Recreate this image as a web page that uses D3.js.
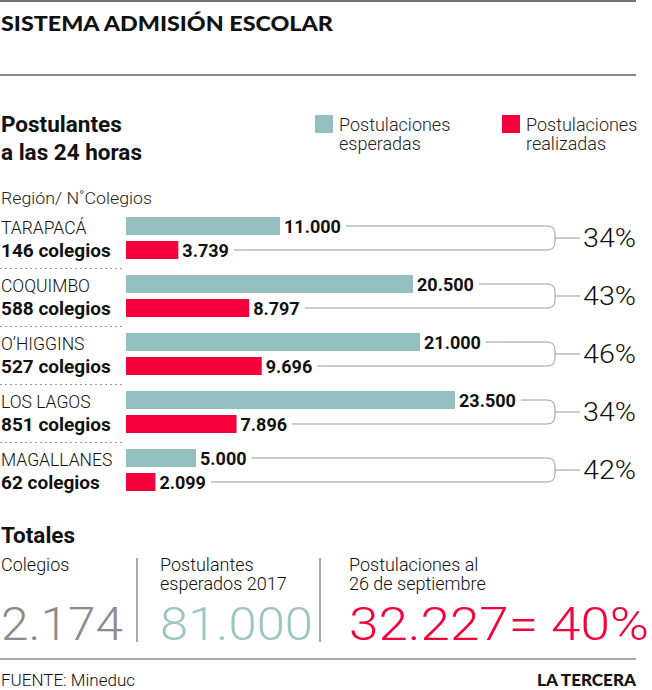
<!DOCTYPE html>
<html><head><meta charset="utf-8">
<script src="https://cdn.jsdelivr.net/npm/d3@7"></script>
<style>
body{margin:0;background:#fff;}
text{font-family:Roboto,"Noto Sans",sans-serif;}
.heavy{font-family:Lato,Roboto,sans-serif;font-weight:900;}
</style></head>
<body><svg id="c" width="652" height="690"></svg>
<script>
const regions = ["TARAPACÁ","COQUIMBO","O’HIGGINS","LOS LAGOS","MAGALLANES"];
const colegios = [146,588,527,851,62];
const esperadas = [11000,20500,21000,23500,5000];
const realizadas = [3739,8797,9696,7896,2099];
const porcentajes = [34,43,46,34,42];
const totalColegios = 2174, totalEsperados = 81000, totalRealizadas = 32227, totalPct = 40;

const TEAL = "#93bfbf", RED = "#f5003a", GRAY="#8c8c8c";
const loc = d3.formatLocale({decimal:",",thousands:".",grouping:[3],currency:["$",""]});
const fmt = loc.format(",d");

const svg = d3.select("#c");
function fit(sel, w){ sel.attr("textLength",w).attr("lengthAdjust","spacingAndGlyphs"); return sel;}

// rules
svg.append("line").attr("x1",0).attr("x2",636).attr("y1",1).attr("y2",1).attr("stroke","#444").attr("stroke-width",1.5);
svg.append("line").attr("x1",0).attr("x2",636).attr("y1",75).attr("y2",75).attr("stroke","#888").attr("stroke-width",2);
svg.append("line").attr("x1",0).attr("x2",636).attr("y1",659).attr("y2",659).attr("stroke","#555").attr("stroke-width",1);

fit(svg.append("text").attr("class","heavy").attr("x",1).attr("y",31).attr("font-size",21).attr("fill","#111").text("SISTEMA ADMISIÓN ESCOLAR"),332);

svg.append("text").attr("x",1).attr("y",132).attr("font-size",22.5).attr("font-weight",700).attr("fill","#111").text("Postulantes");
svg.append("text").attr("x",1).attr("y",160).attr("font-size",22.5).attr("font-weight",700).attr("fill","#111").text("a las 24 horas");

// legend
const leg = [{c:TEAL,x:315,l:["Postulaciones","esperadas"]},{c:RED,x:502,l:["Postulaciones","realizadas"]}];
leg.forEach(d=>{
  svg.append("rect").attr("x",d.x).attr("y",115).attr("width",18).attr("height",18).attr("fill",d.c);
  d.l.forEach((t,i)=>svg.append("text").attr("x",d.x+24).attr("y",131+i*19).attr("font-size",18).attr("font-weight",300).attr("fill","#222").text(t));
});

fit(svg.append("text").attr("x",1).attr("y",204).attr("font-size",17).attr("font-weight",300).attr("fill","#222").text("Región/ N˚Colegios"),151);

const x = d3.scaleLinear().domain([0,23500]).range([126,455]);
const y = d3.scaleBand().domain(regions).range([211,501]);
const BR = 555;

regions.forEach((r,i)=>{
  const t = y(r);
  svg.append("text").attr("x",1).attr("y",t+23).attr("font-size",17.5).attr("font-weight",300).attr("fill","#111").text(r);
  svg.append("text").attr("x",1).attr("y",t+46).attr("font-size",19).attr("font-weight",700).attr("fill","#111").text(colegios[i]+" colegios");
  if(i<regions.length-1) svg.append("line").attr("x1",0).attr("x2",125).attr("y1",t+57.5).attr("y2",t+57.5).attr("stroke","#999").attr("stroke-dasharray","2,3");
  svg.append("rect").attr("x",x(0)).attr("y",t+6).attr("width",x(esperadas[i])-x(0)).attr("height",18).attr("fill",TEAL);
  svg.append("rect").attr("x",x(0)).attr("y",t+30).attr("width",x(realizadas[i])-x(0)).attr("height",18).attr("fill",RED);
  const l1 = svg.append("text").attr("x",x(esperadas[i])+4).attr("y",t+22).attr("font-size",18).attr("font-weight",700).attr("fill","#111").text(fmt(esperadas[i]));
  const l2 = svg.append("text").attr("x",x(realizadas[i])+4).attr("y",t+46).attr("font-size",18).attr("font-weight",700).attr("fill","#111").text(fmt(realizadas[i]));
  const e1 = x(esperadas[i])+4+l1.node().getComputedTextLength()+5;
  const e2 = x(realizadas[i])+4+l2.node().getComputedTextLength()+5;
  const yt=t+15, yb=t+39, rr=8;
  svg.append("path").attr("fill","none").attr("stroke","#999").attr("stroke-width",1)
    .attr("d",`M${e1},${yt}H${BR-rr}Q${BR},${yt} ${BR},${yt+rr}V${yb-rr}Q${BR},${yb} ${BR-rr},${yb}H${e2}`);
  svg.append("line").attr("x1",BR).attr("x2",580).attr("y1",(yt+yb)/2).attr("y2",(yt+yb)/2).attr("stroke","#999");
  fit(svg.append("text").attr("x",583).attr("y",(yt+yb)/2+9).attr("font-size",26).attr("font-weight",300).attr("fill","#111").text(porcentajes[i]+"%"),53);
});

// Totales
svg.append("text").attr("x",1).attr("y",543).attr("font-size",22.5).attr("font-weight",700).attr("fill","#111").text("Totales");
[137,320].forEach(xx=>svg.append("line").attr("x1",xx).attr("x2",xx).attr("y1",558).attr("y2",642).attr("stroke","#555"));
const sub = [{x:1,l:["Colegios"]},{x:160,l:["Postulantes","esperados 2017"]},{x:349,l:["Postulaciones al","26 de septiembre"]}];
sub.forEach(d=>d.l.forEach((t,i)=>svg.append("text").attr("x",d.x).attr("y",571+i*19).attr("font-size",18).attr("font-weight",300).attr("fill","#111").text(t)));
fit(svg.append("text").attr("x",1).attr("y",640).attr("font-size",46).attr("font-weight",300).attr("fill",GRAY).text(fmt(totalColegios)),122);
fit(svg.append("text").attr("x",160).attr("y",640).attr("font-size",46).attr("font-weight",300).attr("fill","#9cc5c4").text(fmt(totalEsperados)),153);
fit(svg.append("text").attr("x",349).attr("y",640).attr("font-size",46).attr("font-weight",300).attr("fill",RED).text(fmt(totalRealizadas)+"= "+totalPct+"%"),300);

svg.append("text").attr("x",1).attr("y",686).attr("font-size",17).attr("font-weight",300).attr("fill","#111").text("FUENTE: Mineduc");
fit(svg.append("text").attr("class","heavy").attr("x",537).attr("y",686).attr("font-size",17).attr("fill","#111").text("LA TERCERA"),99);
</script></body></html>
